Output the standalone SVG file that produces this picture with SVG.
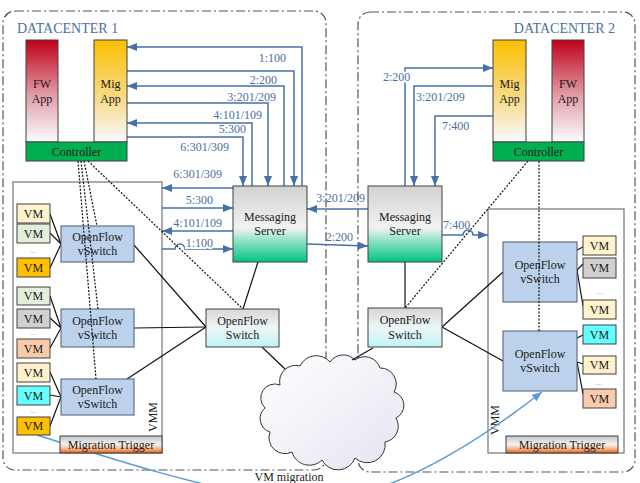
<svg xmlns="http://www.w3.org/2000/svg" width="640" height="483" viewBox="0 0 640 483" font-family="'Liberation Serif','Times New Roman',serif">
<style>
text{font-family:"Liberation Serif","Times New Roman",serif;font-size:12px;fill:#1a1a1a}
.c{text-anchor:middle}
.dc{fill:none;stroke:#555;stroke-width:1.2;stroke-dasharray:9 3 2 3}
.title{font-size:14px;fill:#4a6fa0}
.lbl{fill:#4a6fa0}
.halo{paint-order:stroke;stroke:#fff;stroke-width:4px}
.blue{fill:none;stroke:#4472a8;stroke-width:1.5;marker-end:url(#ab)}
.blk{fill:none;stroke:#111;stroke-width:1.2}
.dot{fill:none;stroke:#111;stroke-width:1.2;stroke-dasharray:2 1.5}
.box{stroke:#404040;stroke-width:1}
.vsw{fill:#bcd2ec;stroke:#4a5a70;stroke-width:1}
.vmm{fill:#fff;stroke:#7f7f7f;stroke-width:1.3}
.dots{font-size:8px;fill:#999}
</style>
<defs>
<linearGradient id="gRed" x1="0" y1="0" x2="0" y2="1"><stop offset="0" stop-color="#c00018"/><stop offset="0.55" stop-color="#e2a0a8"/><stop offset="1" stop-color="#fafcff"/></linearGradient>
<linearGradient id="gYel" x1="0" y1="0" x2="0" y2="1"><stop offset="0" stop-color="#fbc000"/><stop offset="0.6" stop-color="#f8dc90"/><stop offset="1" stop-color="#f8faff"/></linearGradient>
<linearGradient id="gSrv" x1="0" y1="0" x2="0" y2="1"><stop offset="0" stop-color="#d2d2d2"/><stop offset="0.55" stop-color="#f2f2f2"/><stop offset="0.72" stop-color="#90e2c4"/><stop offset="1" stop-color="#00c486"/></linearGradient>
<linearGradient id="gOfs" x1="0" y1="0" x2="0" y2="1"><stop offset="0" stop-color="#d6d6d6"/><stop offset="0.5" stop-color="#eef6f6"/><stop offset="1" stop-color="#bff3f3"/></linearGradient>
<linearGradient id="gTrig" x1="0" y1="0" x2="0" y2="1"><stop offset="0" stop-color="#c4c4c4"/><stop offset="0.5" stop-color="#f2f2f2"/><stop offset="0.75" stop-color="#f6b88c"/><stop offset="1" stop-color="#e85e10"/></linearGradient>
<linearGradient id="gCloud" x1="0" y1="0" x2="1" y2="1"><stop offset="0" stop-color="#ffffff"/><stop offset="1" stop-color="#e4e4f2"/></linearGradient>
<marker id="ab" viewBox="0 0 10 8" refX="10" refY="4" markerWidth="10" markerHeight="8" markerUnits="userSpaceOnUse" orient="auto"><path d="M0,0 L10,4 L0,8 z" fill="#4472a8"/></marker>
<marker id="am" viewBox="0 0 10 8" refX="10" refY="4" markerWidth="10" markerHeight="8" markerUnits="userSpaceOnUse" orient="auto"><path d="M0,0 L10,4 L0,8 z" fill="#5b9bd5"/></marker>
</defs>
<rect width="640" height="483" fill="#fff"/>

<g id="datacenter1">
<rect class="dc" x="3" y="11" width="323" height="459" rx="12"/>
<text class="title" x="17" y="33">DATACENTER 1</text>
</g>
<g id="datacenter2">
<rect class="dc" x="358" y="12" width="277" height="460" rx="12"/>
<text class="title" x="615" y="33" text-anchor="end">DATACENTER 2</text>
</g>

<g id="vmm1"><rect class="vmm" x="13" y="182" width="149" height="271"/>
<text class="c" transform="translate(157,417) rotate(-90)">VMM</text></g>
<g id="vmm2"><rect class="vmm" x="488" y="209" width="136" height="244"/>
<text class="c" transform="translate(499,420) rotate(-90)">VMM</text></g>

<g id="cloud">
<path d="M280 385 A16 16 0 0 1 300 366 A18 18 0 0 1 330 362 A16 16 0 0 1 355 360 A16 16 0 0 1 380 368 A16 16 0 0 1 394 392 A14 14 0 0 1 396 418 A16 16 0 0 1 385 442 A18 18 0 0 1 355 458 A18 18 0 0 1 322 460 A18 18 0 0 1 292 452 A16 16 0 0 1 270 432 A14 14 0 0 1 265 408 A14 14 0 0 1 280 385 Z" fill="url(#gCloud)" stroke="#333" stroke-width="1"/>
</g>

<g id="connectors">
<path class="blk" d="M258 262 L243 309"/>
<path class="blk" d="M134 245 L206 327"/>
<path class="blk" d="M134 328 L206 327"/>
<path class="blk" d="M127 379 L206 327"/>
<path class="blk" d="M405 262 V308"/>
<path class="blk" d="M442 327 L503 272"/>
<path class="blk" d="M442 327 L503 361"/>
<path class="blk" d="M262 347 L285 369"/>
<path class="blk" d="M373 348 L352 360"/>
<path class="blk" d="M50 214 L61 244 M50 233 L61 244 M50 268 L61 244"/>
<path class="blk" d="M50 296 L61 328 M50 318 L61 328 M50 348 L61 328"/>
<path class="blk" d="M50 372 L61 397 M50 395 L61 397 M50 426 L61 397"/>
<path class="blk" d="M577 250 L583 247 M577 270 L583 264 M577 270 L583 306"/>
<path class="blk" d="M577 338 L583 335 M577 362 L583 364 M577 362 L583 394"/>
<path class="blue" d="M302 186 V47 H127"/>
<path class="blue" d="M127 71 H294 V186"/>
<path class="blue" d="M284 186 V86 H127"/>
<path class="blue" d="M127 103 H268 V186"/>
<path class="blue" d="M252 186 V123 H127"/>
<path class="blue" d="M127 137 H243 V186"/>
<path class="blue" d="M233 188 H162"/>
<path class="blue" d="M162 208 H233"/>
<path class="blue" d="M233 231 H162"/>
<path class="blue" d="M162 249 H175 a5 5 0 0 1 10 0 H233"/>
<path class="blue" d="M368 209 H307"/>
<path class="blue" d="M307 244 L368 246"/>
<path class="blue" d="M405 186 V68 H493"/>
<path class="blue" d="M493 86 H414 V186"/>
<path class="blue" d="M493 116 H435 V186"/>
<path class="blue" d="M442 235 H463 a5 5 0 0 1 10 0 H488"/>
<path class="dot" d="M88 161 L243 309"/>
<path class="dot" d="M528 161 L405 308"/>
<path d="M37 435 C100 455, 190 485, 280 500 C370 515, 480 440, 542 392" fill="none" stroke="#5b9bd5" stroke-width="1.5" marker-end="url(#am)"/>
<text class="lbl" x="286" y="62" text-anchor="end">1:100</text>
<text class="lbl" x="277" y="84" text-anchor="end">2:200</text>
<text class="lbl" x="276" y="101" text-anchor="end">3:201/209</text>
<text class="lbl" x="262" y="119" text-anchor="end">4:101/109</text>
<text class="lbl" x="246" y="133" text-anchor="end">5:300</text>
<text class="lbl" x="229" y="151" text-anchor="end">6:301/309</text>
<text class="lbl" x="222" y="178" text-anchor="end">6:301/309</text>
<text class="lbl" x="213" y="204" text-anchor="end">5:300</text>
<text class="lbl" x="222" y="227" text-anchor="end">4:101/109</text>
<text class="lbl halo" x="213" y="247" text-anchor="end">1:100</text>
<text class="lbl" x="365" y="202" text-anchor="end">3:201/209</text>
<text class="lbl" x="353" y="241" text-anchor="end">2:200</text>
<text class="lbl halo" x="383" y="81">2:200</text>
<text class="lbl" x="416" y="101">3:201/209</text>
<text class="lbl" x="442" y="130">7:400</text>
<text class="lbl" x="443" y="229">7:400</text>
<text x="289" y="481" class="c">VM migration</text>
</g>

<g id="fwapp1"><rect class="box" x="26" y="40" width="32" height="102" fill="url(#gRed)"/>
<text class="c" x="42" y="88">FW</text><text class="c" x="42" y="103">App</text></g>
<g id="migapp1"><rect class="box" x="94" y="40" width="33" height="102" fill="url(#gYel)"/>
<text class="c" x="110.5" y="88">Mig</text><text class="c" x="110.5" y="103">App</text></g>
<g id="controller1"><rect class="box" x="26" y="142" width="101" height="19" fill="#00b050"/>
<text class="c" x="76.5" y="156">Controller</text></g>

<g id="migapp2"><rect class="box" x="493" y="40" width="33" height="102" fill="url(#gYel)"/>
<text class="c" x="509.5" y="88">Mig</text><text class="c" x="509.5" y="103">App</text></g>
<g id="fwapp2"><rect class="box" x="552" y="40" width="32" height="102" fill="url(#gRed)"/>
<text class="c" x="568" y="88">FW</text><text class="c" x="568" y="103">App</text></g>
<g id="controller2"><rect class="box" x="493" y="142" width="91" height="19" fill="#00b050"/>
<text class="c" x="538.5" y="156">Controller</text></g>

<g id="msgserver1"><rect class="box" x="233" y="186" width="74" height="76" fill="url(#gSrv)"/>
<text class="c" x="270" y="221">Messaging</text><text class="c" x="270" y="235">Server</text></g>
<g id="msgserver2"><rect class="box" x="368" y="186" width="74" height="76" fill="url(#gSrv)"/>
<text class="c" x="405" y="221">Messaging</text><text class="c" x="405" y="235">Server</text></g>

<g id="ofswitch1"><rect class="box" x="206" y="309" width="73" height="38" fill="url(#gOfs)"/>
<text class="c" x="242.5" y="325">OpenFlow</text><text class="c" x="242.5" y="339">Switch</text></g>
<g id="ofswitch2"><rect class="box" x="368" y="308" width="74" height="39" fill="url(#gOfs)"/>
<text class="c" x="405" y="324">OpenFlow</text><text class="c" x="405" y="339">Switch</text></g>

<g id="vswitch1a"><rect class="vsw" x="61" y="226" width="73" height="36"/>
<text class="c" x="97.5" y="241">OpenFlow</text><text class="c" x="97.5" y="255">vSwitch</text></g>
<g id="vswitch1b"><rect class="vsw" x="61" y="309" width="73" height="38"/>
<text class="c" x="97.5" y="325">OpenFlow</text><text class="c" x="97.5" y="339">vSwitch</text></g>
<g id="vswitch1c"><rect class="vsw" x="61" y="379" width="73" height="36"/>
<text class="c" x="97.5" y="394">OpenFlow</text><text class="c" x="97.5" y="408">vSwitch</text></g>
<g id="vswitch2a"><rect class="vsw" x="503" y="242" width="74" height="60"/>
<text class="c" x="540" y="269">OpenFlow</text><text class="c" x="540" y="283">vSwitch</text></g>
<g id="vswitch2b"><rect class="vsw" x="503" y="331" width="74" height="60"/>
<text class="c" x="540" y="358">OpenFlow</text><text class="c" x="540" y="372">vSwitch</text></g>

<g id="control-links">
<path class="dot" d="M84 161 L97 226"/>
<path class="dot" d="M81 161 L98 309"/>
<path class="dot" d="M78 161 L96 379"/>
<path class="dot" d="M539 161 V331"/>
</g>

<g id="vms1">
<g id="vm1"><rect class="box" x="17" y="204" width="33" height="19" fill="#fff2cc"/><text class="c" x="33.5" y="218">VM</text></g>
<g id="vm2"><rect class="box" x="17" y="224" width="33" height="19" fill="#e2efda"/><text class="c" x="33.5" y="238">VM</text></g>
<text class="dots c" x="33.5" y="253">...</text>
<g id="vm3"><rect class="box" x="17" y="258" width="33" height="19" fill="#ffc000"/><text class="c" x="33.5" y="272">VM</text></g>
<g id="vm4"><rect class="box" x="17" y="287" width="33" height="18" fill="#e2efda"/><text class="c" x="33.5" y="300">VM</text></g>
<g id="vm5"><rect class="box" x="17" y="309" width="33" height="19" fill="#d0d0d0"/><text class="c" x="33.5" y="323">VM</text></g>
<text class="dots c" x="33.5" y="335">...</text>
<g id="vm6"><rect class="box" x="17" y="339" width="33" height="19" fill="#f8cbad"/><text class="c" x="33.5" y="353">VM</text></g>
<g id="vm7"><rect class="box" x="17" y="363" width="33" height="19" fill="#fff2cc"/><text class="c" x="33.5" y="377">VM</text></g>
<g id="vm8"><rect class="box" x="17" y="386" width="33" height="19" fill="#66ffff"/><text class="c" x="33.5" y="400">VM</text></g>
<text class="dots c" x="33.5" y="413">...</text>
<g id="vm9"><rect class="box" x="17" y="417" width="33" height="18" fill="#ffc000"/><text class="c" x="33.5" y="430">VM</text></g>
</g>
<g id="vms2">
<g id="vm10"><rect class="box" x="583" y="236" width="33" height="19" fill="#fff2cc"/><text class="c" x="599.5" y="250">VM</text></g>
<g id="vm11"><rect class="box" x="583" y="258" width="33" height="20" fill="#d0d0d0"/><text class="c" x="599.5" y="272">VM</text></g>
<text class="dots c" x="599.5" y="294">...</text>
<g id="vm12"><rect class="box" x="583" y="300" width="33" height="19" fill="#fff2cc"/><text class="c" x="599.5" y="314">VM</text></g>
<g id="vm13"><rect class="box" x="583" y="325" width="33" height="19" fill="#66ffff"/><text class="c" x="599.5" y="339">VM</text></g>
<g id="vm14"><rect class="box" x="583" y="356" width="33" height="18" fill="#fff2cc"/><text class="c" x="599.5" y="369">VM</text></g>
<text class="dots c" x="599.5" y="385">...</text>
<g id="vm15"><rect class="box" x="583" y="389" width="33" height="19" fill="#f8cbad"/><text class="c" x="599.5" y="403">VM</text></g>
</g>

<g id="trigger1"><rect class="box" x="60" y="436" width="102" height="17" fill="url(#gTrig)"/>
<text class="c" x="111" y="449">Migration Trigger</text></g>
<g id="trigger2"><rect class="box" x="506" y="436" width="112" height="17" fill="url(#gTrig)"/>
<text class="c" x="562" y="449">Migration Trigger</text></g>
</svg>
